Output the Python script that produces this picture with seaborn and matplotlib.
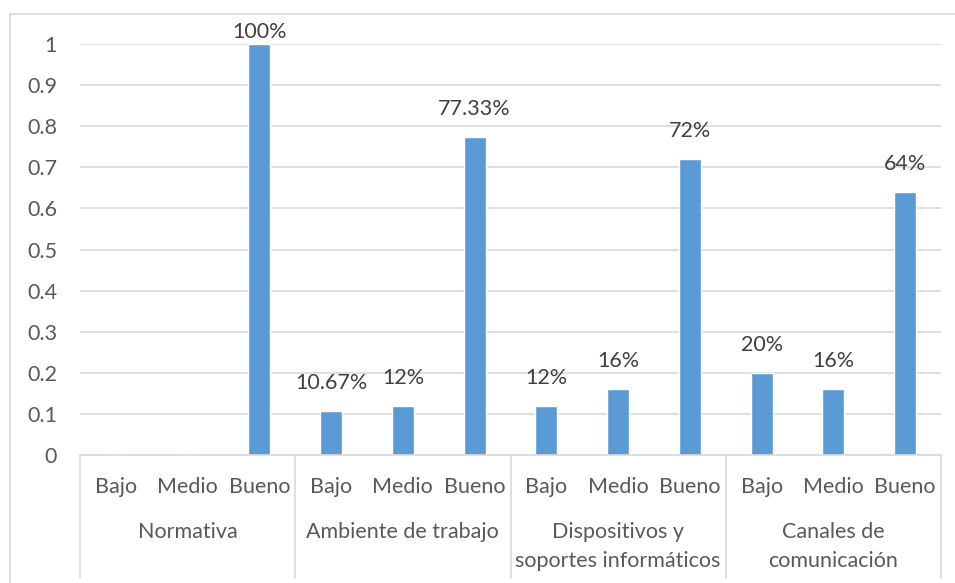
import matplotlib
matplotlib.use("Agg")
import matplotlib.pyplot as plt
from matplotlib.lines import Line2D
import matplotlib.transforms as mtransforms
import seaborn as sns
import pandas as pd

# Survey results by dimension and level
dimensiones = ["Normativa", "Ambiente de trabajo",
               "Dispositivos y\nsoportes informáticos", "Canales de\ncomunicación"]
niveles = ["Bajo", "Medio", "Bueno"]
normativa = [0.0, 0.0, 1.0]
ambiente = [0.1067, 0.12, 0.7733]
dispositivos = [0.12, 0.16, 0.72]
canales = [0.20, 0.16, 0.64]
y_ticks = [0, 0.1, 0.2, 0.3, 0.4, 0.5, 0.6, 0.7, 0.8, 0.9, 1]

series = [normativa, ambiente, dispositivos, canales]
rows = []
for d, vals in zip(dimensiones, series):
    for n, v in zip(niveles, vals):
        rows.append({"item": f"{d}|{n}", "nivel": n, "valor": v})
df = pd.DataFrame(rows)

sns.set_theme(style="white")
plt.rcParams["font.family"] = ["Lato", "DejaVu Sans"]
FS = 15.5
TXT = "#595959"

W, H = 955, 583
fig = plt.figure(figsize=(W / 100, H / 100), dpi=100)
left, right, top, bottom = 80, 941, 44, 455
ax = fig.add_axes([left / W, 1 - bottom / H, (right - left) / W, (bottom - top) / H])

bar_color = "#5B9BD5"
sns.barplot(data=df, x="item", y="valor", color=bar_color, width=0.31,
            saturation=1, ax=ax, errorbar=None)

ax.set_ylim(0, 1)
ax.set_xlim(-0.5, len(df) - 0.5)
ax.set_yticks(y_ticks)
ax.set_yticklabels([f"{t:g}" for t in y_ticks])
ax.set_xticks(range(len(df)))
ax.set_xticklabels(df["nivel"])
ax.set_xlabel("")
ax.set_ylabel("")
ax.tick_params(axis="both", length=0, labelsize=FS, colors=TXT)
ax.tick_params(axis="y", pad=16.5)
ax.tick_params(axis="x", pad=16)

grid_c = "#D9D9D9"
ax.yaxis.grid(True, color=grid_c, linewidth=1.2)
ax.set_axisbelow(True)
for s in ["top", "right", "left"]:
    ax.spines[s].set_visible(False)
ax.spines["bottom"].set_color(grid_c)
ax.spines["bottom"].set_linewidth(1.2)

# Value labels above non-zero bars, kept inside the plot area
def fmt(v):
    return f"{v * 100:.2f}".rstrip("0").rstrip(".") + "%"

px = 1 / (bottom - top)  # one pixel in axes units
for i, v in enumerate(df["valor"]):
    if v <= 0:
        continue
    y = min(v + 18 * px, 1 + 2 * px)
    ax.text(i, y, fmt(v), ha="center", va="bottom", fontsize=FS,
            color="#404040", clip_on=False)

# Group labels and separators under the category axis
trans = mtransforms.blended_transform_factory(ax.transData, ax.transAxes)
for g, d in enumerate(dimensiones):
    ax.text(g * 3 + 1, -0.164, d, transform=trans, ha="center", va="top",
            fontsize=FS, color=TXT, linespacing=1.55)
for b in range(len(dimensiones) + 1):
    x = b * 3 - 0.5
    ax.add_line(Line2D([x, x], [0, -0.3], transform=trans, color=grid_c,
                       linewidth=1.2, clip_on=False))

# Chart area frame
fig.add_artist(Line2D([10 / W, 1], [1 - 14 / H] * 2, color=grid_c, linewidth=1.2))
fig.add_artist(Line2D([10 / W, 10 / W], [0, 1 - 14 / H], color=grid_c, linewidth=1.2))

fig.savefig("out.png", dpi=100)
